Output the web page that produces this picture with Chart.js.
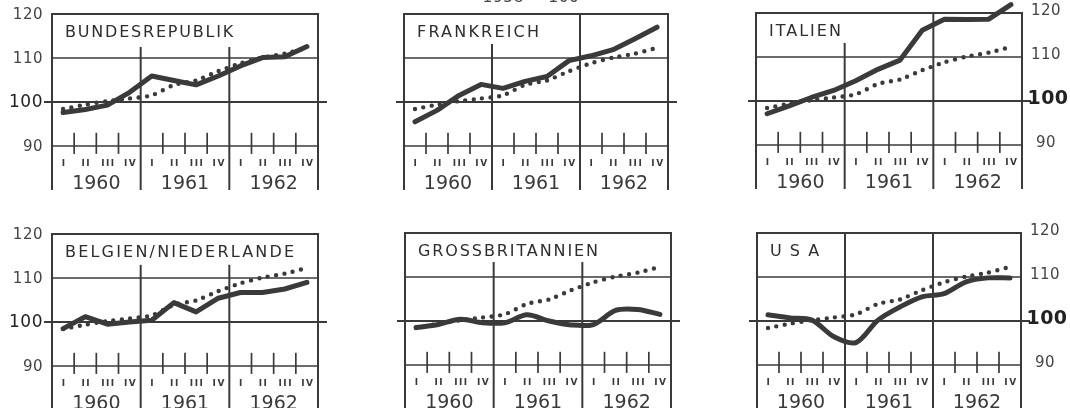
<!DOCTYPE html>
<html><head><meta charset="utf-8">
<script src="https://cdn.jsdelivr.net/npm/chart.js@4"></script>
<style>
html,body{margin:0;padding:0;background:#fff;width:1070px;height:408px;overflow:hidden;position:relative}
canvas{position:absolute}
</style></head><body>
<script>
// ---------- data ----------
const quarters = ["I", "II", "III", "IV"];
const years = ["1960", "1961", "1962"];
const categories = years.flatMap(yr => quarters.map(q => q + " " + yr));
const yTicks = [90, 100, 110, 120];
const baseNote = "1958 = 100";

const trendEWG       = [98.4, 99.4, 100.2, 100.8, 101.5, 103.9, 104.9, 107.0, 108.8, 110.1, 111.0, 112.3];
const bundesrepublik = [97.6, 98.3, 99.3, 102.2, 105.9, 104.9, 103.9, 105.9, 108.2, 110.1, 110.3, 112.6];
const frankreich     = [95.5, 98.1, 101.5, 104.0, 103.1, 104.7, 105.8, 109.4, 110.5, 111.9, 114.4, 117.0];
const italien        = [97.1, 98.9, 100.8, 102.4, 104.6, 107.2, 109.3, 116.1, 118.6, 118.5, 118.6, 121.9];
const beneLux        = [98.5, 101.2, 99.5, 100.0, 100.4, 104.4, 102.3, 105.4, 106.7, 106.7, 107.5, 109.0];
const grossbritannien= [98.5, 99.2, 100.4, 99.6, 99.6, 101.4, 100.0, 99.1, 99.2, 102.4, 102.6, 101.5];
const usa            = [101.4, 100.7, 100.2, 96.4, 95.1, 100.2, 103.2, 105.5, 106.2, 108.9, 109.8, 109.8];

// ---------- layout / style ----------
const INK = "#3a3a3a";
const PAD = {left: 55, right: 50, top: 14, bottom: 6};
const PANEL_H = 176;
const panels = [
  {title: "BUNDESREPUBLIK", data: bundesrepublik, left: 52, top: 14, width: 266, axis: "left", sepFrom: [112.5, 112.5], spacing: 1.8, tension: 0},
  {title: "FRANKREICH", data: frankreich, left: 404, top: 14, width: 264, axis: null, sepFrom: [113.2, 120], spacing: 2.2, tension: 0, note: true},
  {title: "ITALIEN", data: italien, left: 756, top: 13, width: 266, axis: "right", sepFrom: [113.2, 120], spacing: 2.0, tension: 0},
  {title: "BELGIEN/NIEDERLANDE", data: beneLux, left: 52, top: 234, width: 266, axis: "left", sepFrom: [113, 113], spacing: 2.2, tension: 0},
  {title: "GROSSBRITANNIEN", data: grossbritannien, left: 405, top: 233, width: 266, axis: null, sepFrom: [113.4, 113.4], spacing: 1.9, tension: 0.3},
  {title: "USA", data: usa, left: 757, top: 233, width: 264, axis: "right", sepFrom: [120, 120], spacing: 8, tension: 0.3}
];

function makePlugin(p) {
  return {
    id: "frame",
    beforeDatasetsDraw(chart) {
      const {ctx, chartArea: a, scales: {x, y}} = chart;
      const n = categories.length;
      const bound = i => (x.getPixelForValue(i - 1) + x.getPixelForValue(i)) / 2;
      ctx.save();
      ctx.strokeStyle = INK;
      ctx.fillStyle = INK;
      ctx.lineCap = "butt";
      const line = (x1, y1, x2, y2, w) => {
        ctx.lineWidth = w; ctx.beginPath(); ctx.moveTo(x1, y1); ctx.lineTo(x2, y2); ctx.stroke();
      };
      // frame
      line(a.left, y.getPixelForValue(120) - 1, a.left, a.bottom, 2);
      line(a.right, y.getPixelForValue(120) - 1, a.right, a.bottom, 2);
      line(a.left, y.getPixelForValue(120), a.right, y.getPixelForValue(120), 2);
      // grid lines
      line(a.left, y.getPixelForValue(110), a.right, y.getPixelForValue(110), 1.5);
      line(a.left, y.getPixelForValue(90), a.right, y.getPixelForValue(90), 1.5);
      line(a.left - 8, y.getPixelForValue(100), a.right + 9, y.getPixelForValue(100), 2.2);
      // year separators
      let s = 0;
      for (let i = 4; i < n; i += 4) {
        line(bound(i), y.getPixelForValue(p.sepFrom[s++]), bound(i), a.bottom, 2);
      }
      // quarter ticks
      for (let i = 1; i < n; i++) {
        if (i % 4 === 0) continue;
        line(bound(i), y.getPixelForValue(93), bound(i), y.getPixelForValue(88.2), 1.7);
      }
      // quarter labels
      ctx.textAlign = "center";
      ctx.textBaseline = "middle";
      ctx.font = "bold 9px 'DejaVu Sans'";
      ctx.letterSpacing = "1.5px";
      for (let i = 0; i < n; i++) {
        ctx.fillText(quarters[i % 4], x.getPixelForValue(i) + 1, y.getPixelForValue(86));
      }
      // year labels
      ctx.font = "19px 'DejaVu Sans'";
      ctx.letterSpacing = "0px";
      years.forEach((yr, k) => {
        const cx = (x.getPixelForValue(4 * k) + x.getPixelForValue(4 * k + 3)) / 2;
        ctx.fillText(yr, cx, y.getPixelForValue(81.25));
      });
      // title
      ctx.textAlign = "left";
      ctx.font = "16px 'DejaVu Sans'";
      ctx.letterSpacing = p.spacing + "px";
      ctx.fillStyle = "#2e2e2e";
      ctx.fillText(p.title, a.left + 13, y.getPixelForValue(120) + 19);
      // y labels
      ctx.letterSpacing = "0.5px";
      if (p.axis === "left") {
        ctx.textAlign = "right";
        yTicks.forEach(v => {
          ctx.font = v === 100 ? "17px 'DejaVu Sans'" : "15px 'DejaVu Sans'";
          ctx.fillStyle = v === 100 ? "#222" : "#444";
          ctx.fillText(String(v), a.left - 9, y.getPixelForValue(v) + 1);
        });
      } else if (p.axis === "right") {
        ctx.textAlign = "center";
        yTicks.forEach(v => {
          ctx.font = v === 100 ? "bold 19px 'DejaVu Sans'" : "15px 'DejaVu Sans'";
          ctx.fillStyle = v === 100 ? "#222" : "#444";
          ctx.fillText(String(v), a.right + 24 + (v === 100 ? 2 : 0), y.getPixelForValue(v) - 2);
        });
      }
      // base note, cut off at top of page
      if (p.note) {
        ctx.textAlign = "center";
        ctx.textBaseline = "alphabetic";
        ctx.font = "15.5px 'DejaVu Sans'";
        ctx.letterSpacing = "0.5px";
        ctx.fillStyle = "#444";
        ctx.fillText(baseNote, a.left + 127, 2);
      }
      ctx.restore();
    }
  };
}

panels.forEach(p => {
  const c = document.createElement("canvas");
  const w = PAD.left + p.width + PAD.right;
  const h = PAD.top + PANEL_H + PAD.bottom;
  c.width = w; c.height = h;
  c.style.width = w + "px"; c.style.height = h + "px";
  c.style.left = (p.left - PAD.left) + "px";
  c.style.top = (p.top - PAD.top) + "px";
  document.body.appendChild(c);
  new Chart(c, {
    type: "line",
    data: {
      labels: categories,
      datasets: [
        {data: p.data, borderColor: INK, borderWidth: 5, borderCapStyle: "round", borderJoinStyle: "round",
         pointRadius: 0, tension: p.tension, fill: false, clip: false, order: 2},
        {data: trendEWG, borderColor: INK, borderWidth: 4.4, borderDash: [0, 8.5], borderCapStyle: "round",
         pointRadius: 0, tension: 0.2, fill: false, clip: false, order: 1}
      ]
    },
    options: {
      responsive: false, animation: false, events: [],
      layout: {padding: PAD},
      plugins: {legend: {display: false}, tooltip: {enabled: false}},
      scales: {
        x: {type: "category", offset: true, display: false},
        y: {min: 80, max: 120, display: false}
      }
    },
    plugins: [makePlugin(p)]
  });
});
</script>
</body></html>
